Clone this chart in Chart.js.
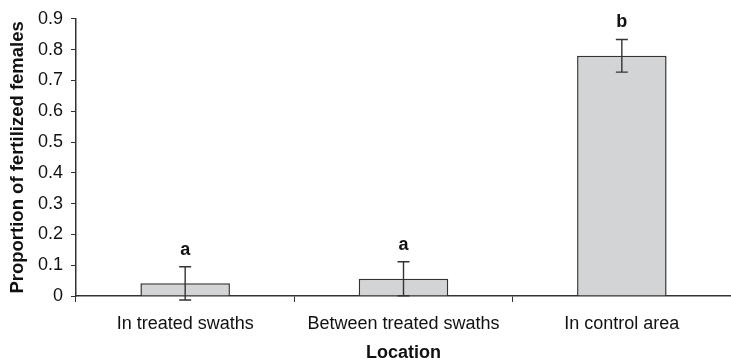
<!DOCTYPE html>
<html>
<head>
<meta charset="utf-8">
<script src="https://cdn.jsdelivr.net/npm/chart.js@4"></script>
<style>
  html, body { margin: 0; padding: 0; background: #fff; }
  #wrap { width: 731px; height: 363px; }
</style>
</head>
<body>
<div id="wrap"><canvas id="fertChart"></canvas></div>
<script>
// Proportion of fertilized females by location
var locations = ["In treated swaths", "Between treated swaths", "In control area"];
var proportions = [0.041, 0.056, 0.78];
var errors = [0.054, 0.055, 0.053];
var letters = ["a", "a", "b"];
var yTicks = [0, 0.1, 0.2, 0.3, 0.4, 0.5, 0.6, 0.7, 0.8, 0.9];

var fontFamily = "'Liberation Sans', Arial, sans-serif";

// error bars and significance letters
var errorBarPlugin = {
    id: "errorBars",
    afterDatasetsDraw: function (chart) {
        var ctx = chart.ctx;
        var x = chart.scales.x;
        var y = chart.scales.y;
        ctx.save();
        ctx.strokeStyle = "#333";
        ctx.lineWidth = 1.4;
        for (var i = 0; i < proportions.length; i++) {
            var cx = x.getPixelForValue(i);
            var top = y.getPixelForValue(proportions[i] + errors[i]);
            var bot = y.getPixelForValue(proportions[i] - errors[i]);
            ctx.beginPath();
            ctx.moveTo(cx, top);
            ctx.lineTo(cx, bot);
            ctx.moveTo(cx - 6, top);
            ctx.lineTo(cx + 6, top);
            ctx.moveTo(cx - 6, bot);
            ctx.lineTo(cx + 6, bot);
            ctx.stroke();

            ctx.fillStyle = "#111";
            ctx.font = "bold 18px " + fontFamily;
            ctx.textAlign = "center";
            ctx.textBaseline = "alphabetic";
            ctx.fillText(letters[i], cx, top - 12);
        }
        ctx.restore();
    }
};

var ctx = document.getElementById("fertChart").getContext("2d");
var fertChart = new Chart(ctx, {
    type: "bar",
    data: {
        labels: locations,
        datasets: [{
            data: proportions,
            backgroundColor: "#d3d4d6",
            borderColor: "#333",
            borderWidth: 1.5,
            categoryPercentage: 1,
            barPercentage: 0.41
        }]
    },
    options: {
        responsive: true,
        maintainAspectRatio: false,
        animation: false,
        layout: { padding: { top: 10, right: 0, left: 0, bottom: 0 } },
        plugins: {
            legend: { display: false },
            tooltip: { enabled: false }
        },
        scales: {
            x: {
                grid: {
                    offset: true,
                    drawOnChartArea: false,
                    drawTicks: true,
                    tickLength: 6,
                    color: "#333"
                },
                border: { display: true, color: "#333", width: 1.5 },
                ticks: {
                    color: "#111",
                    font: { family: fontFamily, size: 18 },
                    padding: 11,
                    maxRotation: 0
                },
                title: {
                    display: true,
                    text: "Location",
                    color: "#111",
                    font: { family: fontFamily, size: 18, weight: "bold" },
                    padding: { top: 0, bottom: -1 }
                },
                afterFit: function (scale) { scale.height = 67; }
            },
            y: {
                min: 0,
                max: 0.9,
                afterBuildTicks: function (scale) {
                    scale.ticks = yTicks.map(function (v) { return { value: v }; });
                },
                grid: {
                    drawOnChartArea: false,
                    drawTicks: true,
                    tickLength: 5,
                    color: "#333"
                },
                border: { display: true, color: "#333", width: 1.5 },
                ticks: {
                    color: "#111",
                    font: { family: fontFamily, size: 18 },
                    padding: 8,
                    callback: function (v) { return String(v); }
                },
                title: {
                    display: true,
                    text: "Proportion of fertilized females",
                    color: "#111",
                    font: { family: fontFamily, size: 18.5, weight: "bold" },
                    padding: { top: 7, bottom: 0 }
                },
                afterFit: function (scale) { scale.width = 76; }
            }
        }
    },
    plugins: [errorBarPlugin]
});
</script>
</body>
</html>
